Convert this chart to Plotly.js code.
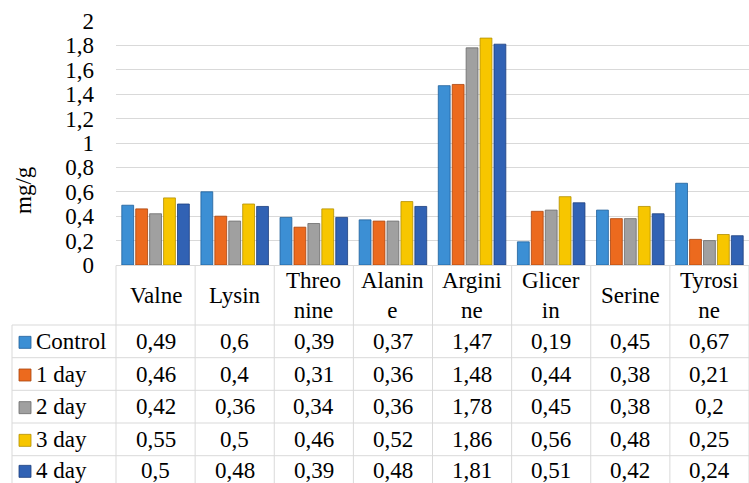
<!DOCTYPE html>
<html>
<head>
<meta charset="utf-8">
<script src="https://cdn.plot.ly/plotly-3.0.1.min.js"></script>
<style>
  html, body { margin: 0; padding: 0; background: #fff; }
  #chart { width: 749px; height: 483px; }
</style>
</head>
<body>
<div id="chart"></div>
<script>
// Amino acid content (mg/g) by storage time
const categories = ['Valne', 'Lysin', 'Threonine', 'Alanine', 'Arginine', 'Glicerin', 'Serine', 'Tyrosine'];
const headerLabels = ['Valne', 'Lysin', 'Threo<br>nine', 'Alanin<br>e', 'Argini<br>ne', 'Glicer<br>in', 'Serine', 'Tyrosi<br>ne'];
const seriesNames = ['Control', '1 day', '2 day', '3 day', '4 day'];
const control = [0.49, 0.6, 0.39, 0.37, 1.47, 0.19, 0.45, 0.67];
const day1 = [0.46, 0.4, 0.31, 0.36, 1.48, 0.44, 0.38, 0.21];
const day2 = [0.42, 0.36, 0.34, 0.36, 1.78, 0.45, 0.38, 0.2];
const day3 = [0.55, 0.5, 0.46, 0.52, 1.86, 0.56, 0.48, 0.25];
const day4 = [0.5, 0.48, 0.39, 0.48, 1.81, 0.51, 0.42, 0.24];
const yTicks = [0, 0.2, 0.4, 0.6, 0.8, 1, 1.2, 1.4, 1.6, 1.8, 2];
const yTitle = 'mg/g';

const seriesValues = [control, day1, day2, day3, day4];
const fills = ['#3C8FD4', '#EC6A1E', '#A0A0A0', '#F7C600', '#3162B4'];
const edges = ['#1F5F9A', '#A8440E', '#6A6A6A', '#B38F00', '#1D3F7E'];

const FONT = 'Liberation Serif';
const FS = 23;
const W = 749, H = 483;
const M = { l: 116, r: 0, t: 21, b: 218 };
const plotW = W - M.l - M.r;
const plotH = H - M.t - M.b;
const px = x => (x - M.l) / plotW;          // pixel -> paper x
const py = y => (H - M.b - y) / plotH;      // pixel -> paper y

const traces = seriesValues.map((vals, i) => ({
  type: 'bar',
  name: seriesNames[i],
  x: categories,
  y: vals,
  marker: { color: fills[i], line: { color: edges[i], width: 0.8 } },
  hoverinfo: 'x+y+name'
}));

// data table geometry (pixels)
const headerTop = 265.5;
const rowTops = [325, 357.7, 390.3, 423, 455.7, 485];
const labelLeft = 12;
const gridCol = '#D9D9D9';

const shapes = [];
const annotations = [];
const lineStyle = { color: gridCol, width: 1 };
const textFont = { family: FONT, size: FS, color: '#000' };

// header top border
shapes.push({ type: 'line', xref: 'paper', yref: 'paper', x0: 0, x1: 1, y0: py(headerTop), y1: py(headerTop), line: lineStyle });
// row borders
rowTops.forEach(t => shapes.push({ type: 'line', xref: 'paper', yref: 'paper', x0: px(labelLeft), x1: 1, y0: py(t), y1: py(t), line: lineStyle }));
// outer verticals
shapes.push({ type: 'line', xref: 'paper', yref: 'paper', x0: px(labelLeft), x1: px(labelLeft), y0: py(rowTops[0]), y1: py(H + 5), line: lineStyle });
shapes.push({ type: 'line', xref: 'paper', yref: 'paper', x0: 0, x1: 0, y0: py(headerTop), y1: py(H + 5), line: lineStyle });
// column separators between categories
for (let k = 1; k < categories.length; k++) {
  shapes.push({ type: 'line', xref: 'x', yref: 'paper', x0: k - 0.5, x1: k - 0.5, y0: py(headerTop), y1: py(H + 5), line: lineStyle });
}
shapes.push({ type: 'line', xref: 'paper', yref: 'paper', x0: 1, x1: 1, y0: py(headerTop), y1: py(H + 5), line: lineStyle });

// header labels
const headerMid = (headerTop + rowTops[0]) / 2;
headerLabels.forEach((lab, j) => annotations.push({
  xref: 'x', yref: 'paper', x: j, y: py(headerMid), text: lab, showarrow: false,
  xanchor: 'center', yanchor: 'middle', font: textFont
}));

// value rows with legend keys
const fmt = v => String(v).replace('.', ',');
seriesValues.forEach((vals, i) => {
  const mid = (rowTops[i] + rowTops[i + 1]) / 2;
  shapes.push({ type: 'rect', xref: 'paper', yref: 'paper',
    x0: px(19), x1: px(31), y0: py(mid - 5), y1: py(mid + 7),
    fillcolor: fills[i], line: { color: edges[i], width: 0.8 } });
  annotations.push({ xref: 'paper', yref: 'paper', x: px(34), y: py(mid), text: seriesNames[i],
    showarrow: false, xanchor: 'left', yanchor: 'middle', font: textFont });
  vals.forEach((v, j) => annotations.push({
    xref: 'x', yref: 'paper', x: j, y: py(mid), text: fmt(v), showarrow: false,
    xanchor: 'center', yanchor: 'middle', font: textFont
  }));
});

// vertical axis title
annotations.push({ xref: 'paper', yref: 'paper', x: px(23), y: py(190), text: yTitle, textangle: -90,
  showarrow: false, xanchor: 'center', yanchor: 'middle', font: textFont });

const layout = {
  width: W, height: H,
  margin: { l: M.l, r: M.r, t: M.t, b: M.b, pad: 0 },
  paper_bgcolor: '#fff', plot_bgcolor: '#fff',
  separators: ', ',
  showlegend: false,
  barmode: 'group',
  bargap: 0.12,
  bargroupgap: 0.15,
  font: textFont,
  xaxis: { type: 'category', showticklabels: false, ticks: '', showgrid: false, zeroline: false,
    showline: false, range: [-0.5, categories.length - 0.5], automargin: false },
  yaxis: { range: [0, 2], tickvals: yTicks, showgrid: true, gridcolor: gridCol, gridwidth: 1,
    zeroline: false, showline: false, ticks: '', ticklabelstandoff: 21, automargin: false,
    tickfont: textFont },
  shapes: shapes,
  annotations: annotations
};

Plotly.newPlot('chart', traces, layout, { displayModeBar: false, staticPlot: true });
</script>
</body>
</html>
